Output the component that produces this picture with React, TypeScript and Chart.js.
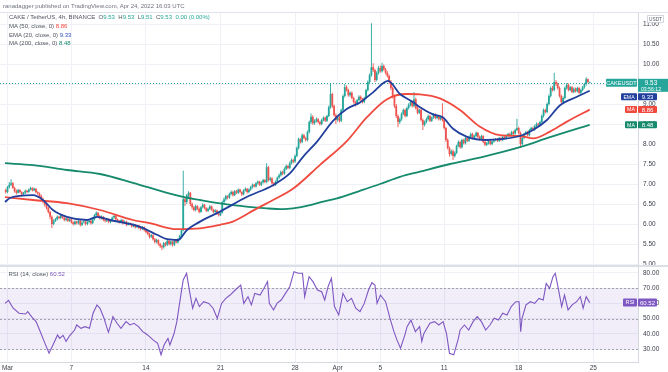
import React, { useEffect, useRef } from 'react';
import { Chart, registerables } from 'chart.js';

Chart.register(...registerables);

const FONT = "'Liberation Sans', Arial, sans-serif";
Chart.defaults.font.family = FONT;
Chart.defaults.font.size = 6.5;

// ---- time axis (x in 4h-bar index units) ----
const dateTickIdx = [1, 37, 79, 121, 163, 187, 211, 247, 289, 331];
const dateTickLabels = ['Mar', '7', '14', '21', '28', 'Apr', '5', '11', '18', '25'];
const priceTicks = [5, 5.5, 6, 6.5, 7, 7.5, 8, 8.5, 9, 9.5, 10, 10.5, 11];
const rsiTicks = [30, 40, 50, 60, 70, 80];

// ---- CAKE/USDT 4h candles ----
const opens = [
  6.85, 6.80, 6.92, 6.98, 7.02, 6.90, 6.82, 6.78, 6.85, 6.80, 6.74, 6.78, 6.83, 6.80, 6.86, 6.90, 6.84, 6.88, 6.80, 6.76,
  6.70, 6.62, 6.55, 6.48, 6.40, 6.30, 6.18, 6.00,
  6.08, 6.12, 6.18, 6.15, 6.22, 6.16, 6.10, 6.14, 6.08, 6.12, 6.04, 6.00, 6.06, 6.02, 6.08, 5.98, 6.04, 6.06, 6.00, 6.05, 6.08,
  6.02, 6.12, 6.22, 6.28, 6.20, 6.14, 6.18, 6.10,
  6.08, 6.12, 6.05, 6.10, 6.16, 6.20, 6.12, 6.08, 6.04, 6.10, 6.02, 6.06, 5.98, 6.02, 6.00, 5.94, 5.98, 5.92, 5.96, 5.90, 5.88, 5.92,
  5.85, 5.80, 5.75, 5.68, 5.72, 5.62, 5.55, 5.60, 5.50, 5.45, 5.42, 5.52, 5.48, 5.58,
  5.50, 5.56, 5.48, 5.58, 5.54, 5.62, 5.70,
  5.84, 6.62, 6.55, 6.72, 6.78, 6.50,
  6.42, 6.35, 6.45, 6.38, 6.30, 6.42, 6.48, 6.40, 6.33, 6.38, 6.44, 6.36, 6.30, 6.34, 6.26, 6.22,
  6.28, 6.55, 6.62, 6.70, 6.66, 6.75, 6.80, 6.72, 6.82, 6.78, 6.86, 6.80, 6.74, 6.84, 6.88,
  6.80, 6.86, 6.92, 6.98, 6.94, 7.02, 7.06, 6.98, 7.04, 7.10,
  7.05, 7.42, 7.10, 7.14, 7.02, 6.98, 7.06,
  7.16, 7.22, 7.30, 7.26, 7.38, 7.45, 7.40, 7.52, 7.60, 7.56,
  7.70, 7.90, 8.12, 8.05, 8.22, 8.15,
  8.10, 8.30, 8.55, 8.68, 8.52,
  8.58, 8.62, 8.55, 8.50, 8.60, 8.66, 8.58, 8.70, 8.92, 9.25,
  8.95, 8.72, 8.60, 8.66, 8.58,
  8.85, 9.20, 9.42, 9.35, 9.22,
  9.28, 9.15, 9.05, 9.00, 9.10, 9.18, 9.12, 9.05,
  9.15, 9.35, 9.55,
  9.72, 9.92, 9.85, 9.60, 9.78, 9.90, 9.82, 9.95, 9.86, 9.78,
  9.70, 9.55, 9.40, 9.20, 8.95, 8.70, 8.55,
  8.62, 8.75, 8.85, 8.70, 8.90, 8.98, 9.05, 8.95,
  9.12, 8.90, 8.78, 8.85, 8.60, 8.48,
  8.55, 8.62, 8.70, 8.58, 8.66, 8.74, 8.65, 8.70, 8.62,
  8.68, 8.60, 8.40, 8.10, 7.90, 7.75, 7.82, 7.70,
  7.78, 7.95, 8.05, 7.92, 8.10, 8.02, 8.15,
  8.08, 8.18, 8.25, 8.15, 8.20, 8.28, 8.18, 8.12,
  8.20, 8.05, 7.98, 8.02, 8.08, 8.00, 8.06,
  8.10, 8.12, 8.08, 8.15, 8.10, 8.18, 8.14, 8.20,
  8.25, 8.22, 8.30, 8.26, 8.35, 8.40, 8.28,
  8.00, 8.15, 8.25, 8.30, 8.22, 8.35, 8.40, 8.36, 8.45, 8.50,
  8.48, 8.55, 8.70, 8.85, 8.80,
  9.00, 9.20, 9.40, 9.35, 9.55,
  9.50, 9.40, 9.20, 9.05,
  9.15, 9.40, 9.48, 9.35, 9.42,
  9.30, 9.38, 9.32, 9.40, 9.28, 9.35,
  9.42, 9.50, 9.62, 9.53,
];
const highs = [
  6.88, 6.95, 7.05, 7.12, 7.05, 6.93, 6.86, 6.88, 6.87, 6.82, 6.80, 6.86, 6.85, 6.89, 6.93, 6.92, 6.91, 6.90, 6.82, 6.79,
  6.74, 6.66, 6.59, 6.52, 6.43, 6.33, 6.21, 6.12,
  6.15, 6.21, 6.20, 6.25, 6.24, 6.18, 6.17, 6.16, 6.14, 6.14, 6.07, 6.09, 6.08, 6.11, 6.10, 6.07, 6.09, 6.08, 6.08, 6.11, 6.10,
  6.15, 6.25, 6.32, 6.30, 6.23, 6.21, 6.20, 6.13,
  6.15, 6.14, 6.12, 6.19, 6.24, 6.22, 6.14, 6.10, 6.13, 6.12, 6.09, 6.08, 6.05, 6.04, 6.02, 6.01, 6.00, 5.98, 5.98, 5.93, 5.95, 5.94,
  5.88, 5.83, 5.78, 5.75, 5.74, 5.65, 5.63, 5.62, 5.53, 5.48, 5.55, 5.55, 5.61, 5.60,
  5.59, 5.58, 5.61, 5.60, 5.65, 5.73, 5.87,
  7.33, 6.68, 6.75, 6.82, 6.80, 6.54,
  6.45, 6.48, 6.47, 6.41, 6.45, 6.52, 6.50, 6.42, 6.41, 6.47, 6.46, 6.38, 6.37, 6.36, 6.29, 6.31,
  6.58, 6.66, 6.73, 6.72, 6.78, 6.84, 6.83, 6.85, 6.85, 6.89, 6.88, 6.82, 6.87, 6.92, 6.90,
  6.89, 6.95, 7.01, 7.00, 7.05, 7.09, 7.08, 7.07, 7.13, 7.12,
  7.52, 7.45, 7.18, 7.17, 7.05, 7.09, 7.19,
  7.26, 7.34, 7.33, 7.42, 7.49, 7.48, 7.56, 7.64, 7.63, 7.74,
  7.94, 8.16, 8.15, 8.26, 8.25, 8.18,
  8.34, 8.59, 8.76, 8.72, 8.62,
  8.66, 8.65, 8.58, 8.63, 8.69, 8.68, 8.73, 8.96, 9.50, 9.28,
  8.98, 8.76, 8.70, 8.70, 8.88,
  9.24, 9.50, 9.46, 9.38, 9.31,
  9.31, 9.18, 9.08, 9.13, 9.22, 9.21, 9.15, 9.18,
  9.38, 9.59, 9.76,
  11.02, 10.02, 9.88, 9.82, 9.95, 9.96, 10.03, 9.99, 9.90, 9.82,
  9.74, 9.60, 9.44, 9.24, 9.00, 8.74, 8.66,
  8.79, 8.89, 8.88, 8.93, 9.02, 9.09, 9.08, 9.30,
  9.16, 8.94, 8.88, 8.88, 8.64, 8.59,
  8.66, 8.74, 8.73, 8.69, 8.77, 8.77, 8.73, 8.73, 8.71,
  9.02, 8.63, 8.43, 8.14, 7.94, 7.86, 7.86, 7.82,
  7.98, 8.09, 8.08, 8.13, 8.13, 8.18, 8.18,
  8.21, 8.29, 8.28, 8.23, 8.31, 8.30, 8.21, 8.23,
  8.22, 8.08, 8.05, 8.11, 8.10, 8.09, 8.13,
  8.15, 8.15, 8.18, 8.18, 8.21, 8.21, 8.23, 8.28,
  8.28, 8.33, 8.33, 8.38, 8.63, 8.43, 8.31,
  8.18, 8.28, 8.33, 8.33, 8.38, 8.43, 8.43, 8.48, 8.54, 8.53,
  8.58, 8.74, 8.89, 8.88, 9.04,
  9.24, 9.44, 9.45, 9.78, 9.60,
  9.54, 9.44, 9.24, 9.19,
  9.44, 9.52, 9.51, 9.45, 9.45,
  9.41, 9.41, 9.43, 9.43, 9.38, 9.45,
  9.53, 9.67, 9.64, 9.53,
];
const lows = [
  6.76, 6.77, 6.89, 6.95, 6.88, 6.79, 6.74, 6.76, 6.77, 6.71, 6.72, 6.75, 6.77, 6.78, 6.84, 6.81, 6.82, 6.77, 6.73, 6.66,
  6.58, 6.51, 6.44, 6.36, 6.26, 6.12, 5.90, 5.97,
  6.05, 6.09, 6.12, 6.12, 6.13, 6.07, 6.07, 6.05, 6.05, 6.01, 5.96, 5.97, 5.99, 5.99, 5.94, 5.95, 6.01, 5.96, 5.97, 6.02, 5.98,
  6.00, 6.09, 6.19, 6.17, 6.11, 6.11, 6.07, 6.04,
  6.05, 6.02, 6.02, 6.08, 6.13, 6.09, 6.05, 6.01, 6.01, 5.99, 6.00, 5.95, 5.96, 5.97, 5.91, 5.92, 5.89, 5.90, 5.87, 5.84, 5.85, 5.81,
  5.77, 5.72, 5.64, 5.65, 5.59, 5.51, 5.52, 5.46, 5.40, 5.35, 5.39, 5.44, 5.45, 5.47,
  5.46, 5.44, 5.45, 5.51, 5.51, 5.59, 5.67,
  5.82, 6.45, 6.50, 6.66, 6.45, 6.36,
  6.32, 6.32, 6.35, 6.27, 6.28, 6.39, 6.37, 6.30, 6.30, 6.35, 6.33, 6.27, 6.27, 6.23, 6.19, 6.20,
  6.26, 6.50, 6.58, 6.62, 6.63, 6.72, 6.69, 6.70, 6.75, 6.75, 6.77, 6.70, 6.72, 6.81, 6.76,
  6.77, 6.83, 6.89, 6.91, 6.91, 6.99, 6.95, 6.95, 7.01, 7.02,
  7.02, 7.06, 7.06, 6.99, 6.94, 6.95, 7.03,
  7.13, 7.19, 7.22, 7.23, 7.35, 7.37, 7.37, 7.49, 7.52, 7.53,
  7.67, 7.86, 8.01, 8.02, 8.12, 8.06,
  8.07, 8.26, 8.50, 8.48, 8.48,
  8.54, 8.51, 8.46, 8.47, 8.57, 8.55, 8.55, 8.67, 8.88, 8.90,
  8.68, 8.50, 8.56, 8.54, 8.55,
  8.82, 9.16, 9.31, 9.18, 9.18,
  9.12, 9.01, 8.94, 8.97, 9.07, 9.08, 9.01, 9.02,
  9.12, 9.31, 9.52,
  9.68, 9.80, 9.55, 9.57, 9.74, 9.78, 9.79, 9.83, 9.74, 9.66,
  9.50, 9.35, 9.14, 8.90, 8.65, 8.42, 8.50,
  8.58, 8.72, 8.66, 8.67, 8.86, 8.94, 8.91, 8.92,
  8.86, 8.74, 8.75, 8.56, 8.35, 8.44,
  8.52, 8.59, 8.55, 8.55, 8.63, 8.62, 8.62, 8.59, 8.59,
  8.56, 8.36, 8.05, 7.86, 7.68, 7.71, 7.60, 7.66,
  7.75, 7.92, 7.88, 7.89, 7.99, 7.99, 8.05,
  8.05, 8.15, 8.12, 8.12, 8.17, 8.15, 8.08, 8.09,
  8.02, 7.95, 7.95, 7.99, 7.97, 7.97, 8.03,
  8.07, 8.05, 8.05, 8.07, 8.07, 8.11, 8.11, 8.17,
  8.18, 8.19, 8.22, 8.23, 8.32, 8.24, 7.90,
  7.97, 8.12, 8.22, 8.19, 8.19, 8.32, 8.33, 8.33, 8.42, 8.44,
  8.45, 8.52, 8.66, 8.76, 8.77,
  8.96, 9.16, 9.31, 9.32, 9.45,
  9.36, 9.16, 9.02, 9.02,
  9.12, 9.36, 9.32, 9.32, 9.27,
  9.27, 9.29, 9.29, 9.25, 9.25, 9.32,
  9.39, 9.46, 9.52, 9.51,
];
const closes = [
  6.80, 6.92, 6.98, 7.02, 6.90, 6.82, 6.78, 6.85, 6.80, 6.74, 6.78, 6.83, 6.80, 6.86, 6.90, 6.84, 6.88, 6.80, 6.76, 6.70,
  6.62, 6.55, 6.48, 6.40, 6.30, 6.18, 6.00, 6.08,
  6.12, 6.18, 6.15, 6.22, 6.16, 6.10, 6.14, 6.08, 6.12, 6.04, 6.00, 6.06, 6.02, 6.08, 5.98, 6.04, 6.06, 6.00, 6.05, 6.08, 6.02,
  6.12, 6.22, 6.28, 6.20, 6.14, 6.18, 6.10, 6.08,
  6.12, 6.05, 6.10, 6.16, 6.20, 6.12, 6.08, 6.04, 6.10, 6.02, 6.06, 5.98, 6.02, 6.00, 5.94, 5.98, 5.92, 5.96, 5.90, 5.88, 5.92, 5.85,
  5.80, 5.75, 5.68, 5.72, 5.62, 5.55, 5.60, 5.50, 5.45, 5.42, 5.52, 5.48, 5.58, 5.50,
  5.56, 5.48, 5.58, 5.54, 5.62, 5.70, 5.84,
  6.62, 6.55, 6.72, 6.78, 6.50, 6.42,
  6.35, 6.45, 6.38, 6.30, 6.42, 6.48, 6.40, 6.33, 6.38, 6.44, 6.36, 6.30, 6.34, 6.26, 6.22, 6.28,
  6.55, 6.62, 6.70, 6.66, 6.75, 6.80, 6.72, 6.82, 6.78, 6.86, 6.80, 6.74, 6.84, 6.88, 6.80,
  6.86, 6.92, 6.98, 6.94, 7.02, 7.06, 6.98, 7.04, 7.10, 7.05,
  7.42, 7.10, 7.14, 7.02, 6.98, 7.06, 7.16,
  7.22, 7.30, 7.26, 7.38, 7.45, 7.40, 7.52, 7.60, 7.56, 7.70,
  7.90, 8.12, 8.05, 8.22, 8.15, 8.10,
  8.30, 8.55, 8.68, 8.52, 8.58,
  8.62, 8.55, 8.50, 8.60, 8.66, 8.58, 8.70, 8.92, 9.25, 8.95,
  8.72, 8.60, 8.66, 8.58, 8.85,
  9.20, 9.42, 9.35, 9.22, 9.28,
  9.15, 9.05, 9.00, 9.10, 9.18, 9.12, 9.05, 9.15,
  9.35, 9.55, 9.72,
  9.92, 9.85, 9.60, 9.78, 9.90, 9.82, 9.95, 9.86, 9.78, 9.70,
  9.55, 9.40, 9.20, 8.95, 8.70, 8.55, 8.62,
  8.75, 8.85, 8.70, 8.90, 8.98, 9.05, 8.95, 9.12,
  8.90, 8.78, 8.85, 8.60, 8.48, 8.55,
  8.62, 8.70, 8.58, 8.66, 8.74, 8.65, 8.70, 8.62, 8.68,
  8.60, 8.40, 8.10, 7.90, 7.75, 7.82, 7.70, 7.78,
  7.95, 8.05, 7.92, 8.10, 8.02, 8.15, 8.08,
  8.18, 8.25, 8.15, 8.20, 8.28, 8.18, 8.12, 8.20,
  8.05, 7.98, 8.02, 8.08, 8.00, 8.06, 8.10,
  8.12, 8.08, 8.15, 8.10, 8.18, 8.14, 8.20, 8.25,
  8.22, 8.30, 8.26, 8.35, 8.40, 8.28, 8.00,
  8.15, 8.25, 8.30, 8.22, 8.35, 8.40, 8.36, 8.45, 8.50, 8.48,
  8.55, 8.70, 8.85, 8.80, 9.00,
  9.20, 9.40, 9.35, 9.55, 9.50,
  9.40, 9.20, 9.05, 9.15,
  9.40, 9.48, 9.35, 9.42, 9.30,
  9.38, 9.32, 9.40, 9.28, 9.35, 9.42,
  9.50, 9.62, 9.55, 9.53,
];

// ---- moving averages (bar index, value) ----
const ema20Idx = [-0.4, 2.4, 15.4, 21.0, 26.6, 34.5, 45.8, 51.4, 58.7, 75.7, 85.2, 90.9, 97.1, 102.1, 109.5, 120.7, 136.0, 150.6, 160.2, 167.5, 175.4, 184.4, 192.3, 199.6, 206.9, 215.4, 222.1, 229.4, 233.4, 240.7, 246.4, 252.0, 259.9, 271.1, 278.5, 289.7, 297.1, 304.9, 312.3, 321.8, 329];
const ema20Vals = [6.55, 6.65, 6.72, 6.60, 6.35, 6.18, 6.10, 6.18, 6.10, 5.93, 5.73, 5.62, 5.60, 5.85, 6.06, 6.31, 6.68, 6.97, 7.27, 7.68, 8.06, 8.58, 8.88, 9.04, 9.29, 9.58, 9.25, 9.05, 8.92, 8.74, 8.66, 8.38, 8.18, 8.10, 8.12, 8.20, 8.35, 8.60, 8.97, 9.18, 9.33];
const ma50Idx = [-0.4, 15.4, 34.5, 53.1, 71.7, 81.3, 96.5, 109.5, 120.7, 128.0, 141.6, 150.6, 161.8, 177.1, 192.3, 203.5, 214.8, 226.1, 233.4, 244.6, 255.9, 267.2, 278.5, 289.7, 297.1, 306.6, 316.2, 329];
const ma50Vals = [6.67, 6.60, 6.52, 6.35, 6.10, 6.02, 5.87, 5.89, 5.98, 6.06, 6.39, 6.60, 6.88, 7.48, 8.08, 8.67, 9.12, 9.25, 9.24, 9.14, 8.85, 8.43, 8.22, 8.20, 8.14, 8.31, 8.56, 8.86];
const ma200Idx = [-0.4, 15.4, 34.5, 53.1, 71.7, 90.9, 99.9, 109.5, 128.0, 147.2, 156.2, 161.8, 171.4, 177.1, 186.6, 199.6, 210.9, 222.1, 233.4, 250.3, 268.9, 289.7, 306.6, 329];
const ma200Vals = [7.52, 7.47, 7.35, 7.25, 7.03, 6.78, 6.68, 6.60, 6.47, 6.39, 6.37, 6.39, 6.47, 6.54, 6.64, 6.83, 7.00, 7.18, 7.31, 7.50, 7.68, 7.92, 8.17, 8.48];

// ---- RSI(14) ----
const rsiIdx = [-0.4, 1.6, 4.1, 7.5, 11.2, 12.4, 14.8, 17.1, 19.6, 22.1, 24.4, 26.6, 29.2, 30.4, 32.3, 34.0, 36.2, 38.8, 40.0, 42.4, 44.7, 47.2, 49.2, 51.4, 53.1, 55.4, 56.8, 57.9, 60.4, 62.7, 64.9, 67.8, 70.0, 72.3, 74.8, 77.2, 79.0, 80.7, 83.0, 85.6, 87.5, 89.2, 91.4, 92.5, 94.8, 96.4, 98.8, 100.0, 101.9, 103.6, 105.3, 107.2, 109.1, 111.5, 114.4, 116.8, 119.2, 121.6, 124.0, 126.4, 129.3, 132.4, 134.1, 136.5, 138.4, 140.3, 143.3, 145.5, 147.5, 148.5, 150.9, 152.8, 155.2, 157.6, 160.0, 162.4, 164.8, 167.2, 168.4, 170.9, 173.1, 175.6, 178.0, 179.7, 181.6, 183.5, 185.2, 187.6, 190.0, 192.4, 194.8, 197.2, 199.6, 202.0, 204.4, 206.3, 208.0, 209.2, 211.1, 214.0, 216.5, 218.7, 220.4, 222.4, 224.8, 226.1, 228.3, 230.8, 233.2, 234.4, 235.6, 239.0, 241.6, 244.0, 246.4, 248.3, 250.0, 252.4, 254.8, 256.0, 258.4, 260.8, 263.3, 265.6, 268.0, 270.4, 272.8, 275.2, 277.6, 280.0, 282.4, 284.8, 287.3, 289.2, 290.1, 290.9, 293.1, 295.6, 298.0, 300.4, 302.8, 304.5, 306.4, 308.3, 309.6, 311.1, 313.2, 314.8, 316.8, 319.1, 321.6, 323.7, 325.3, 327.0, 329];
const rsiVals = [60, 62, 57, 53.5, 53, 54.6, 51, 48, 41, 33.7, 27.2, 32.6, 39.2, 37, 39, 35, 39, 42.5, 45.8, 43.6, 44.7, 43.6, 53.5, 59, 56.8, 50.2, 44.7, 41, 51.3, 46.9, 43.6, 48, 45.8, 46.9, 44.7, 41.4, 40, 38.5, 36, 33.7, 26.2, 32.6, 37, 32.6, 40, 48, 66.6, 75.4, 79.8, 67.7, 56.8, 63.3, 57.9, 61.1, 60, 56.8, 50.2, 60, 63.3, 65.5, 68.8, 72.1, 60, 64.4, 59, 66.6, 65.5, 69.9, 74.3, 60, 55.7, 60, 62.2, 66.6, 71, 80.9, 79.8, 79.8, 64.4, 77.6, 74.3, 68.8, 67.7, 62.2, 71, 76.5, 57.9, 52.4, 66.6, 61.1, 63.3, 56.8, 54.6, 60, 68.8, 73.6, 72.1, 60, 65.5, 61.1, 50.2, 41.4, 36, 30.5, 39, 44.7, 49, 41.4, 44.7, 35, 40.3, 46.9, 48, 45.8, 48, 40.3, 27.2, 26.2, 36, 42.5, 45.8, 42.5, 48, 51.3, 48, 42.5, 45.8, 50.2, 49, 53.5, 52.4, 57.9, 61.1, 61.1, 41.4, 50.2, 59, 61.1, 60, 63.3, 62.2, 73.2, 69.9, 77.6, 79.8, 71, 57.9, 65.5, 55.7, 59, 61.1, 64.4, 56.8, 64.4, 60.52];
const rsiBand = [30, 50, 70];

// last values shown on labels
const lastPrice = 9.53;
const ema20Last = 9.33;
const ma50Last = 8.86;
const ma200Last = 8.48;
const rsiLast = 60.52;

const GREEN = '#26a69a';
const RED = '#ef5350';
const EMA_C = '#213f9c';
const MA50_C = '#f04a3e';
const MA200_C = '#168a6c';
const RSI_C = '#7e57c2';
const GRID = '#eff1f6';
const AXIS_C = '#d6d9e0';
const TXT = '#3d414d';

const X_MIN = -3.22;
const X_MAX = 356.2;

function candleColor(i: number) {
  return closes[i] >= opens[i] ? GREEN : RED;
}

function xScale(showLabels: boolean) {
  return {
    type: 'linear',
    min: X_MIN,
    max: X_MAX,
    offset: false,
    grid: { color: GRID, drawTicks: false, offset: false },
    border: { display: showLabels, color: AXIS_C },
    afterBuildTicks: (s: any) => {
      s.ticks = dateTickIdx.map((v) => ({ value: v }));
    },
    ticks: {
      display: showLabels,
      autoSkip: false,
      maxRotation: 0,
      padding: 2,
      color: TXT,
      font: { size: 6.5, family: FONT },
      callback: (v: any) => {
        const k = dateTickIdx.indexOf(Number(v));
        return k >= 0 ? dateTickLabels[k] : '';
      },
    },
    afterFit: (s: any) => {
      s.height = showLabels ? 10 : 0;
      s.paddingLeft = 0;
      s.paddingRight = 0;
    },
  };
}

function yScale(min: number, max: number, tickVals: number[]) {
  return {
    position: 'right',
    min,
    max,
    afterBuildTicks: (s: any) => {
      s.ticks = tickVals.map((v) => ({ value: v }));
    },
    ticks: {
      padding: 5,
      color: TXT,
      font: { size: 6.5, family: FONT },
      callback: (v: any) => Number(v).toFixed(2),
    },
    grid: { color: GRID, drawTicks: false },
    border: { display: true, color: AXIS_C },
    afterFit: (s: any) => {
      s.width = 30;
      s.paddingTop = 0;
      s.paddingBottom = 0;
    },
  };
}

function tag(ctx: CanvasRenderingContext2D, x1: number, x2: number, top: number, h: number, bg: string, text: string, size: number) {
  ctx.fillStyle = bg;
  ctx.beginPath();
  (ctx as any).roundRect ? (ctx as any).roundRect(x1, top, x2 - x1, h, 1) : ctx.rect(x1, top, x2 - x1, h);
  ctx.fill();
  ctx.fillStyle = '#ffffff';
  ctx.font = `${size}px ${FONT}`;
  ctx.textAlign = 'center';
  ctx.textBaseline = 'middle';
  ctx.fillText(text, (x1 + x2) / 2, top + h / 2 + 0.3);
}

const mainOverlay = {
  id: 'mainOverlay',
  beforeDatasetsDraw(chart: any) {
    const { ctx, chartArea: a, scales } = chart;
    const py = Math.round(scales.y.getPixelForValue(lastPrice)) + 0.5;
    ctx.save();
    ctx.strokeStyle = GREEN;
    ctx.lineWidth = 1;
    ctx.setLineDash([1, 2]);
    ctx.beginPath();
    ctx.moveTo(a.left, py);
    ctx.lineTo(a.right, py);
    ctx.stroke();
    ctx.restore();
  },
  afterDraw(chart: any) {
    const { ctx, scales, width } = chart;
    const y = scales.y;
    const L = y.left;
    ctx.save();
    // currency box
    ctx.fillStyle = '#ffffff';
    ctx.strokeStyle = '#c9ccd3';
    ctx.lineWidth = 0.8;
    ctx.beginPath();
    ctx.rect(L + 9.5, 3.5, 16, 7);
    ctx.fill();
    ctx.stroke();
    ctx.fillStyle = '#555a66';
    ctx.font = `4.8px ${FONT}`;
    ctx.textAlign = 'center';
    ctx.textBaseline = 'middle';
    ctx.fillText('USDT', L + 17.5, 7.2);

    // current price
    const pp = y.getPixelForValue(lastPrice);
    const pTop = pp - 4;
    tag(ctx, L - 32, L - 1, pTop, 8, GREEN, 'CAKEUSDT', 5.6);
    ctx.fillStyle = GREEN;
    ctx.fillRect(L, pTop, width - L, 13);
    ctx.fillStyle = '#ffffff';
    ctx.textAlign = 'center';
    ctx.textBaseline = 'middle';
    ctx.font = `6.3px ${FONT}`;
    ctx.fillText(lastPrice.toFixed(2), L + 13, pp + 0.3);
    ctx.font = `5.2px ${FONT}`;
    ctx.fillText('03:56:12', L + 13, pp + 6.3);
    const pBottom = pTop + 13;

    // EMA 20
    const ey = Math.max(y.getPixelForValue(ema20Last) - 3.5, pBottom + 1.5);
    tag(ctx, L - 17, L - 1, ey, 7, EMA_C, 'EMA', 5.2);
    tag(ctx, L, L + 19, ey, 7, EMA_C, ema20Last.toFixed(2), 6);
    // MA 50
    const m5 = y.getPixelForValue(ma50Last) - 3.5;
    tag(ctx, L - 13, L - 1, m5, 7, MA50_C, 'MA', 5.2);
    tag(ctx, L, L + 19, m5, 7, MA50_C, ma50Last.toFixed(2), 6);
    // MA 200
    const m2 = y.getPixelForValue(ma200Last) - 3.5;
    tag(ctx, L - 13, L - 1, m2, 7, MA200_C, 'MA', 5.2);
    tag(ctx, L, L + 19, m2, 7, MA200_C, ma200Last.toFixed(2), 6);
    ctx.restore();
  },
};

const rsiOverlay = {
  id: 'rsiOverlay',
  beforeDatasetsDraw(chart: any) {
    const { ctx, chartArea: a, scales } = chart;
    const y = scales.y;
    const yHi = y.getPixelForValue(rsiBand[2]);
    const yLo = y.getPixelForValue(rsiBand[0]);
    ctx.save();
    ctx.fillStyle = 'rgba(126,87,194,0.1)';
    ctx.fillRect(a.left, yHi, a.right - a.left, yLo - yHi);
    ctx.strokeStyle = 'rgba(120,123,134,0.65)';
    ctx.lineWidth = 1;
    ctx.setLineDash([2, 2]);
    rsiBand.forEach((v) => {
      const py = Math.round(y.getPixelForValue(v)) + 0.5;
      ctx.beginPath();
      ctx.moveTo(a.left, py);
      ctx.lineTo(a.right, py);
      ctx.stroke();
    });
    ctx.restore();
  },
  afterDraw(chart: any) {
    const { ctx, scales } = chart;
    const y = scales.y;
    const L = y.left;
    const ry = y.getPixelForValue(rsiLast) - 4;
    ctx.save();
    tag(ctx, L - 15, L - 1, ry, 8, RSI_C, 'RSI', 5.4);
    tag(ctx, L, L + 19, ry, 8, RSI_C, rsiLast.toFixed(2), 6);
    ctx.restore();
  },
};

const lineDs = (label: string, xs: number[], vs: number[], color: string) => ({
  type: 'line',
  label,
  data: xs.map((x, i) => ({ x, y: vs[i] })),
  borderColor: color,
  borderWidth: 1.8,
  pointRadius: 0,
  cubicInterpolationMode: 'monotone',
  fill: false,
  order: 0,
});

export default function App() {
  const mainRef = useRef<HTMLCanvasElement | null>(null);
  const rsiRef = useRef<HTMLCanvasElement | null>(null);

  useEffect(() => {
    if (!mainRef.current || !rsiRef.current) return;
    const main = new Chart(mainRef.current, {
      type: 'bar',
      data: {
        datasets: [
          lineDs('EMA (20, close, 0)', ema20Idx, ema20Vals, EMA_C),
          lineDs('MA (50, close, 0)', ma50Idx, ma50Vals, MA50_C),
          lineDs('MA (200, close, 0)', ma200Idx, ma200Vals, MA200_C),
          {
            type: 'bar',
            label: 'body',
            data: closes.map((c, i) => ({ x: i, y: [opens[i], c] })),
            backgroundColor: (ctx: any) => candleColor(ctx.dataIndex ?? 0),
            barThickness: 1.8,
            minBarLength: 1,
            grouped: false,
            inflateAmount: 0,
            borderWidth: 0,
            order: 1,
          },
          {
            type: 'bar',
            label: 'wick',
            data: highs.map((h, i) => ({ x: i, y: [lows[i], h] })),
            backgroundColor: (ctx: any) => candleColor(ctx.dataIndex ?? 0),
            barThickness: 0.9,
            grouped: false,
            inflateAmount: 0,
            borderWidth: 0,
            order: 2,
          },
        ] as any,
      },
      options: {
        responsive: false,
        animation: false,
        events: [],
        layout: { padding: 0 },
        plugins: { legend: { display: false }, tooltip: { enabled: false } },
        scales: {
          x: xScale(false) as any,
          y: yScale(4.95, 11.3, priceTicks) as any,
        },
      },
      plugins: [mainOverlay],
    });

    const rsi = new Chart(rsiRef.current, {
      type: 'line',
      data: {
        datasets: [
          {
            label: 'RSI (14, close)',
            data: rsiIdx.map((x, i) => ({ x, y: rsiVals[i] })),
            borderColor: RSI_C,
            borderWidth: 1.1,
            pointRadius: 0,
            tension: 0,
            fill: false,
          },
        ],
      },
      options: {
        responsive: false,
        animation: false,
        events: [],
        layout: { padding: 0 },
        plugins: { legend: { display: false }, tooltip: { enabled: false } },
        scales: {
          x: xScale(true) as any,
          y: yScale(21.45, 84.6, rsiTicks) as any,
        },
      },
      plugins: [rsiOverlay],
    });

    return () => {
      main.destroy();
      rsi.destroy();
    };
  }, []);

  const legendRow = (top: number): React.CSSProperties => ({
    position: 'absolute',
    left: 9,
    top,
    fontSize: 6,
    lineHeight: '8px',
    color: '#4f535e',
    whiteSpace: 'pre',
  });

  return (
    <div
      style={{
        position: 'absolute',
        left: 0,
        top: 0,
        width: 668,
        height: 372,
        background: '#ffffff',
        overflow: 'hidden',
        fontFamily: FONT,
      }}
    >
      <canvas ref={mainRef} width={668} height={254} style={{ position: 'absolute', left: 0, top: 12 }} />
      <canvas ref={rsiRef} width={668} height={106} style={{ position: 'absolute', left: 0, top: 266 }} />
      <div style={{ position: 'absolute', left: 0, top: 12, width: 668, height: 1, background: '#e0e3eb' }} />
      <div style={{ position: 'absolute', left: 0, top: 265, width: 668, height: 1.5, background: '#dcdfe6' }} />
      <div style={{ position: 'absolute', left: 3, top: 2, fontSize: 6, lineHeight: '8px', color: '#6f737d', whiteSpace: 'pre' }}>
        ranadagger published on TradingView.com, Apr 24, 2022 16:03 UTC
      </div>
      <div style={legendRow(13)}>
        <span>CAKE / TetherUS, 4h, BINANCE</span>
        <span>{'  O'}</span><span style={{ color: GREEN }}>9.53</span>
        <span>{'  H'}</span><span style={{ color: GREEN }}>9.53</span>
        <span>{'  L'}</span><span style={{ color: GREEN }}>9.51</span>
        <span>{'  C'}</span><span style={{ color: GREEN }}>9.53</span>
        <span style={{ color: GREEN }}>{'  0.00 (0.00%)'}</span>
      </div>
      <div style={legendRow(22)}>
        <span>MA (50, close, 0) </span><span style={{ color: MA50_C }}>8.86</span>
      </div>
      <div style={legendRow(30.5)}>
        <span>EMA (20, close, 0) </span><span style={{ color: '#2e4fc0' }}>9.33</span>
      </div>
      <div style={legendRow(39)}>
        <span>MA (200, close, 0) </span><span style={{ color: MA200_C }}>8.48</span>
      </div>
      <div style={{ ...legendRow(269.5), left: 8.5 }}>
        <span>RSI (14, close) </span><span style={{ color: RSI_C }}>60.52</span>
      </div>
    </div>
  );
}
